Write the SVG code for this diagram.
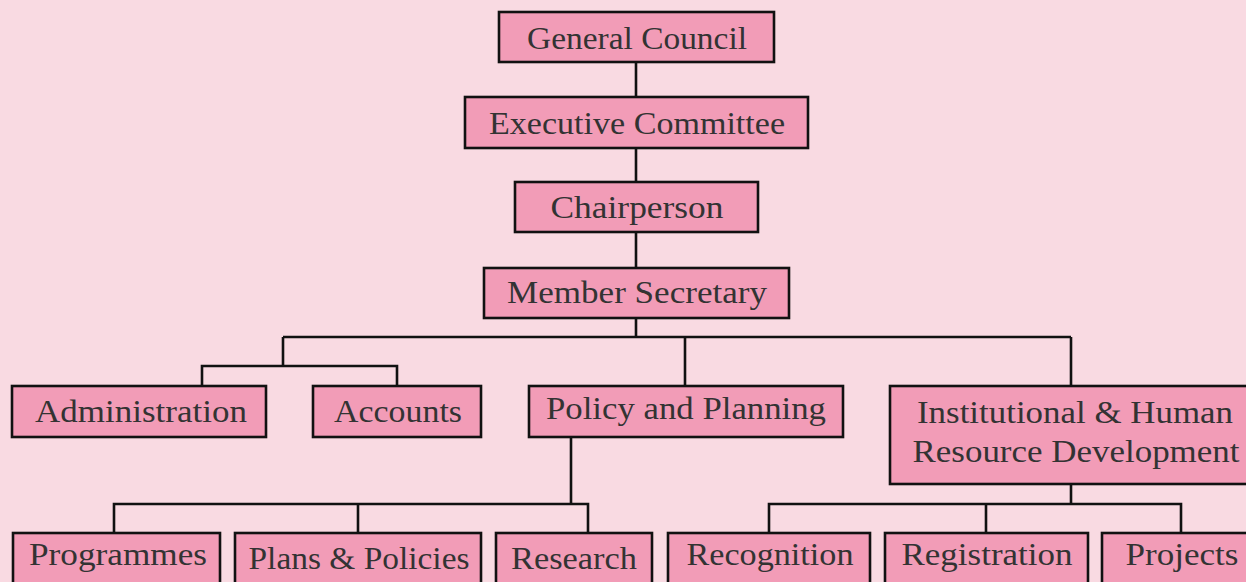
<svg xmlns="http://www.w3.org/2000/svg" width="1246" height="582" viewBox="0 0 1246 582">
<style>
.bg{fill:#f9dae2}
.box{fill:#f29cb7;stroke:#111;stroke-width:2.6}
.t{font-family:"Liberation Serif","DejaVu Serif",serif;font-size:31px;fill:#333;text-anchor:middle}
.c{fill:none;stroke:#111;stroke-width:2.6}
</style>
<rect class="bg" x="0" y="0" width="1246" height="582"/>
<g id="connectors">
<path class="c" d="M636,62V97M636,148V182M636,232V268M636,318V337"/>
<path class="c" d="M283,337H1071M283,337V366M202,386V366H397V386M685,337V386M1071,337V386"/>
<path class="c" d="M571,437V504M114,533V504H588V533M358,504V533"/>
<path class="c" d="M1071,484V504M769,533V504H1181V533M986,504V533"/>
</g>
<g id="general-council"><rect class="box" x="499" y="12" width="275" height="50"/><text class="t" x="637" y="49" textLength="220" lengthAdjust="spacingAndGlyphs">General Council</text></g>
<g id="executive-committee"><rect class="box" x="465" y="97" width="343" height="51"/><text class="t" x="637" y="134" textLength="296" lengthAdjust="spacingAndGlyphs">Executive Committee</text></g>
<g id="chairperson"><rect class="box" x="515" y="182" width="243" height="50"/><text class="t" x="637" y="218" textLength="173" lengthAdjust="spacingAndGlyphs">Chairperson</text></g>
<g id="member-secretary"><rect class="box" x="484" y="268" width="305" height="50"/><text class="t" x="637" y="303" textLength="260" lengthAdjust="spacingAndGlyphs">Member Secretary</text></g>
<g id="administration"><rect class="box" x="12" y="386" width="254" height="51"/><text class="t" x="141" y="422" textLength="212" lengthAdjust="spacingAndGlyphs">Administration</text></g>
<g id="accounts"><rect class="box" x="313" y="386" width="168" height="51"/><text class="t" x="398" y="422" textLength="128" lengthAdjust="spacingAndGlyphs">Accounts</text></g>
<g id="policy-planning"><rect class="box" x="529" y="386" width="314" height="51"/><text class="t" x="686" y="419" textLength="280" lengthAdjust="spacingAndGlyphs">Policy and Planning</text></g>
<g id="institutional-hrd"><rect class="box" x="890" y="386" width="360" height="98"/><text class="t" x="1075" y="423" textLength="316" lengthAdjust="spacingAndGlyphs">Institutional &amp; Human</text><text class="t" x="1076" y="462" textLength="327" lengthAdjust="spacingAndGlyphs">Resource Development</text></g>
<g id="programmes"><rect class="box" x="13" y="533" width="207" height="60"/><text class="t" x="118" y="565" textLength="178" lengthAdjust="spacingAndGlyphs">Programmes</text></g>
<g id="plans-policies"><rect class="box" x="235" y="533" width="246" height="60"/><text class="t" x="359" y="569" textLength="221" lengthAdjust="spacingAndGlyphs">Plans &amp; Policies</text></g>
<g id="research"><rect class="box" x="496" y="533" width="156" height="60"/><text class="t" x="574" y="569" textLength="126" lengthAdjust="spacingAndGlyphs">Research</text></g>
<g id="recognition"><rect class="box" x="668" y="533" width="202" height="60"/><text class="t" x="770" y="565" textLength="167" lengthAdjust="spacingAndGlyphs">Recognition</text></g>
<g id="registration"><rect class="box" x="885" y="533" width="203" height="60"/><text class="t" x="987" y="565" textLength="171" lengthAdjust="spacingAndGlyphs">Registration</text></g>
<g id="projects"><rect class="box" x="1102" y="533" width="160" height="60"/><text class="t" x="1182" y="565" textLength="113" lengthAdjust="spacingAndGlyphs">Projects</text></g>
</svg>
